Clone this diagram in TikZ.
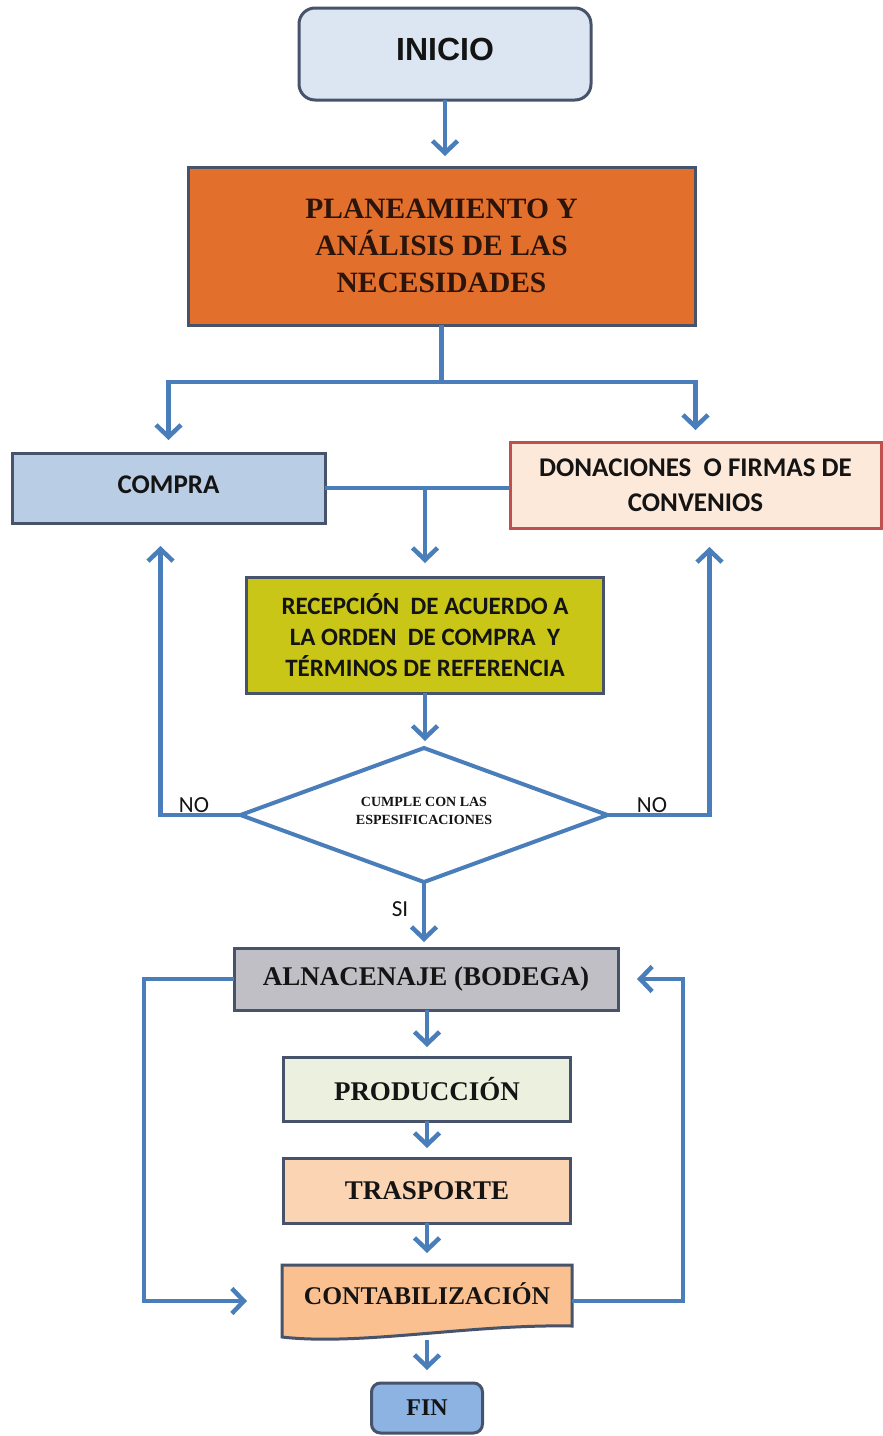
\documentclass[tikz,border=0pt]{standalone}
\usepackage{fontspec}
\setmainfont{Liberation Serif}
\newfontfamily\arialf{Liberation Sans}
\newfontfamily\calf{Carlito}
\usetikzlibrary{arrows.meta,shapes.geometric,calc}
\definecolor{linec}{HTML}{4A7EBB}
\definecolor{edgec}{HTML}{46536A}
\definecolor{txt}{HTML}{141414}
\definecolor{inicioc}{HTML}{DCE6F2}
\definecolor{planc}{HTML}{E36F2C}
\definecolor{plantxt}{HTML}{2B140A}
\definecolor{comprac}{HTML}{B9CDE5}
\definecolor{donac}{HTML}{FDE9D9}
\definecolor{donab}{HTML}{C0504D}
\definecolor{recepc}{HTML}{C9C617}
\definecolor{alnc}{HTML}{BFBFC5}
\definecolor{prodc}{HTML}{EBF1DE}
\definecolor{trasc}{HTML}{FBD4B4}
\definecolor{contabc}{HTML}{FAC090}
\definecolor{finc}{HTML}{8DB3E2}
\begin{document}
\begin{tikzpicture}[x=1pt,y=-1pt,
  box/.style={draw=edgec, line width=3pt, inner sep=0pt, outer sep=0pt, align=center, text=txt},
  serifbig/.style={font=\bfseries\fontsize{27}{30}\selectfont},
  calbig/.style={font=\calf\bfseries\fontsize{27}{35}\selectfont},
  line/.style={draw=linec, line width=4.5pt},
  arr/.style={line, -{Straight Barb[length=12pt,width=25pt]}, shorten >=11pt},
  lab/.style={font=\calf\fontsize{23}{26}\selectfont, text=txt, inner sep=0pt}
]
\fill[white] (0,0) rectangle (883,1436);
\useasboundingbox (0,0) rectangle (883,1436);

% nodes
\node[box, rounded corners=16pt, fill=inicioc, minimum width=292pt, minimum height=92pt] (inicio) at (445,54)
  {\raisebox{10pt}{\arialf\bfseries\fontsize{32}{36}\selectfont INICIO}};
\node[box, fill=planc, minimum width=507pt, minimum height=158pt, text=plantxt,
  font=\bfseries\fontsize{29.5}{37}\selectfont] (plan) at (441.5,246)
  {PLANEAMIENTO Y\\ANÁLISIS DE LAS\\NECESIDADES};
\node[box, fill=comprac, minimum width=313pt, minimum height=70pt, calbig] (compra) at (168.5,488)
  {\raisebox{6pt}{COMPRA}};
\node[box, draw=donab, fill=donac, minimum width=371pt, minimum height=86pt, calbig] (dona) at (695.5,485)
  {DONACIONES\ \ O FIRMAS DE\\CONVENIOS};
\node[box, fill=recepc, minimum width=357pt, minimum height=116pt,
  font=\calf\bfseries\fontsize{25}{31}\selectfont] (recep) at (425,635)
  {RECEPCIÓN\ \ DE ACUERDO A\\LA ORDEN\ \ DE COMPRA\ \ Y\\TÉRMINOS DE REFERENCIA};
\node[draw=linec, line width=4pt, fill=white, shape=diamond, minimum width=367pt, minimum height=134pt,
  inner sep=0pt, outer sep=0pt] (dia) at (424,815) {};
\node[font=\bfseries\fontsize{14}{18}\selectfont, align=center, text=txt, inner sep=0pt] (diat) at (424,811)
  {CUMPLE CON LAS\\ESPESIFICACIONES};
\node[box, fill=alnc, minimum width=384pt, minimum height=62pt, serifbig] (aln) at (426,979)
  {ALNACENAJE (BODEGA)};
\node[box, fill=prodc, minimum width=287pt, minimum height=64pt, serifbig] (prod) at (427,1089)
  {PRODUCCIÓN};
\node[box, fill=trasc, minimum width=287pt, minimum height=65pt, serifbig] (tras) at (427,1190.5)
  {TRASPORTE};
\path[draw=edgec, line width=3pt, fill=contabc]
  (282,1265) -- (572,1265) -- (572,1326) .. controls (470,1324) and (360,1346) .. (282,1337) -- cycle;
\node[inner sep=0pt, outer sep=0pt, minimum width=290pt, minimum height=72pt,
  font=\bfseries\fontsize{25.5}{30}\selectfont, text=txt] (contab) at (427,1301)
  {\raisebox{14pt}{CONTABILIZACIÓN}};
\node[box, rounded corners=9pt, fill=finc, minimum width=111pt, minimum height=50pt,
  font=\bfseries\fontsize{24}{28}\selectfont] (fin) at (427,1408) {FIN};

% connectors
\draw[arr] (inicio.south) -- (inicio.south |- plan.north);
\draw[line] (plan.south) -- ++(0,57) coordinate (split);
\draw[arr, shorten >=13pt] (split) -| (compra.north);
\draw[arr, shorten >=12pt] (split) -| (dona.north);
\draw[line] (compra.east) -- (compra.east -| dona.west);
\draw[arr, shorten >=14pt] (recep.north |- compra.east) -- (recep.north);
\draw[arr, shorten >=7pt] (recep.south) -- (recep.south |- dia.north);
\draw[arr, shorten >=23pt] (dia.west) -| ([xshift=-8pt]compra.south);
\draw[arr, shorten >=19pt] (dia.east) -| ([xshift=14pt]dona.south);
\node[lab] (no1) at (194,805) {NO};
\node[lab] (no2) at (652,805) {NO};
\draw[arr, shorten >=6pt] (dia.south) -- (dia.south |- aln.north);
\node[lab] (si) at (400,909) {SI};
\draw[arr, shorten >=35pt] (aln.west) -- ++(-90,0) |- (contab.west);
\draw[arr, shorten >=19pt] (contab.east) -- ++(111,0) |- (aln.east);
\draw[arr, shorten >=10pt] (prod.north |- aln.south) -- (prod.north);
\draw[arr, shorten >=10pt] (prod.south) -- (tras.north);
\draw[arr, shorten >=12pt] (tras.south) -- (tras.south |- 0,1265);
\draw[arr, shorten >=13pt] (contab.south |- 0,1340) -- (fin.north);
\end{tikzpicture}
\end{document}
